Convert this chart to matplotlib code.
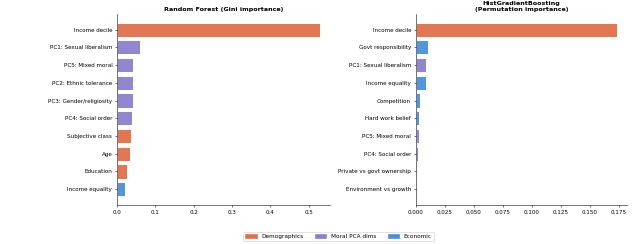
import matplotlib.pyplot as plt
from matplotlib.patches import Patch

# colours per feature group
group_colors = {
    "Demographics": "#E0704A",
    "Moral PCA dims": "#8C80CC",
    "Economic": "#4A90D9",
}

# Random Forest (Gini importance)
rf_features = ["Income decile", "PC1: Sexual liberalism", "PC5: Mixed moral",
               "PC2: Ethnic tolerance", "PC3: Gender/religiosity", "PC4: Social order",
               "Subjective class", "Age", "Education", "Income equality"]
rf_values = [0.528, 0.061, 0.041, 0.041, 0.041, 0.040, 0.036, 0.035, 0.025, 0.020]
rf_groups = ["Demographics", "Moral PCA dims", "Moral PCA dims", "Moral PCA dims",
             "Moral PCA dims", "Moral PCA dims", "Demographics", "Demographics",
             "Demographics", "Economic"]

# HistGradientBoosting (Permutation importance)
hgb_features = ["Income decile", "Govt responsibility", "PC1: Sexual liberalism",
                "Income equality", "Competition", "Hard work belief", "PC5: Mixed moral",
                "PC4: Social order", "Private vs govt ownership", "Environment vs growth"]
hgb_values = [0.1735, 0.0107, 0.0086, 0.0083, 0.0035, 0.0030, 0.0026, 0.0015, 0.0012, 0.0010]
hgb_groups = ["Demographics", "Economic", "Moral PCA dims", "Economic", "Economic",
              "Economic", "Moral PCA dims", "Moral PCA dims", "Economic", "Economic"]

fig = plt.figure(figsize=(634 / 48, 244 / 48), dpi=48)
ax1 = fig.add_axes([0.1845, 0.16, 0.3355, 0.783])
ax2 = fig.add_axes([0.656, 0.16, 0.333, 0.783])


def draw(ax, feats, vals, groups, title):
    cols = [group_colors[g] for g in groups]
    ax.barh(range(len(feats)), vals, height=0.8, color=cols, edgecolor="white",
            linewidth=1.5, alpha=0.95)
    ax.set_yticks(range(len(feats)))
    ax.set_yticklabels(feats)
    ax.invert_yaxis()
    ax.tick_params(labelsize=8.5)
    ax.set_title(title, fontsize=9.6, fontweight="bold", pad=4)
    ax.spines["top"].set_visible(False)
    ax.spines["right"].set_visible(False)


draw(ax1, rf_features, rf_values, rf_groups, "Random Forest (Gini importance)")
draw(ax2, hgb_features, hgb_values, hgb_groups,
     "HistGradientBoosting\n(Permutation importance)")
ax2.set_xticks([0, 0.025, 0.05, 0.075, 0.1, 0.125, 0.15, 0.175])
ax2.set_xticklabels(["0.000", "0.025", "0.050", "0.075", "0.100", "0.125", "0.150", "0.175"])

handles = [Patch(color=c, label=g) for g, c in group_colors.items()]
fig.legend(handles=handles, loc="lower center", ncol=3, fontsize=8.6,
           bbox_to_anchor=(0.534, 0.0))

fig.savefig("out.png", dpi=48)
